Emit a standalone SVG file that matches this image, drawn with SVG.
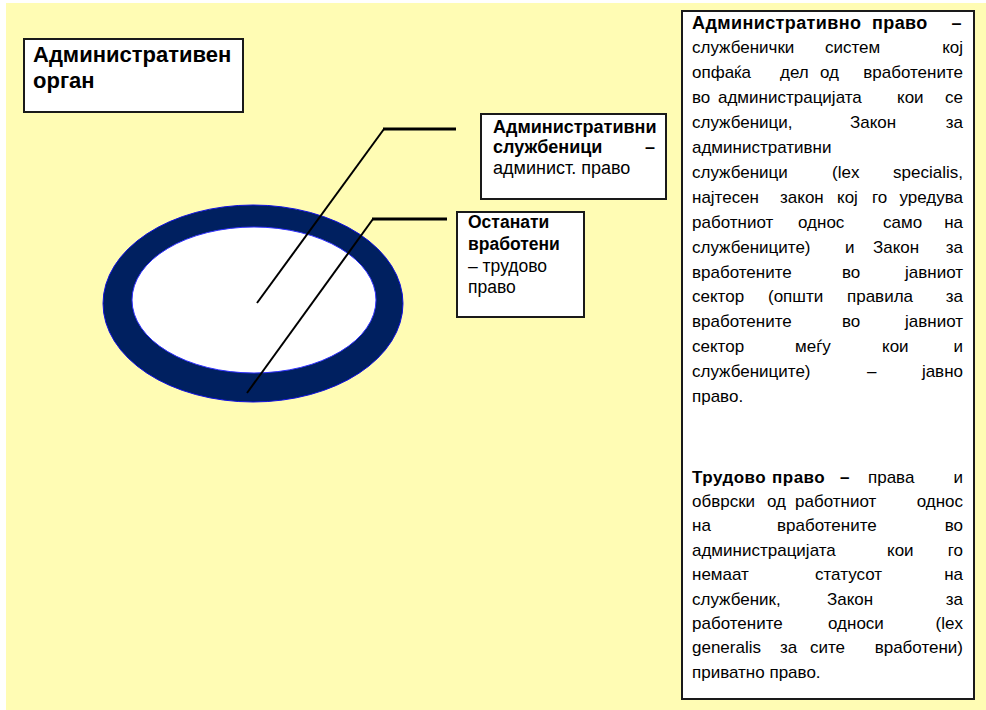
<svg xmlns="http://www.w3.org/2000/svg" width="986" height="710" viewBox="0 0 986 710">
<style>
text{font-family:"Liberation Sans",Arial,sans-serif;fill:#000}
.b{font-weight:bold}
.box{fill:#fff;stroke:#1a1a1a;stroke-width:2}
.r{font-size:17px}
.r .b{letter-spacing:0.5px}
.r .h{font-size:18px;letter-spacing:0.4px}
.s{font-size:18px}
.o{font-size:17.5px}
.diag{stroke:#000;stroke-width:2;fill:none}
.hor{stroke:#000;stroke-width:3;fill:none}
</style>
<rect x="0" y="0" width="986" height="710" fill="#fff"/>
<rect x="6" y="3" width="980" height="707" fill="#fffcb4"/>

<g id="organ">
<rect class="box" x="24" y="39" width="219" height="73"/>
<text class="b" font-size="22" x="33" y="62">Административен</text>
<text class="b" font-size="22" x="33" y="88">орган</text>
</g>

<g id="ring">
<ellipse cx="253" cy="303.5" rx="150" ry="98.5" fill="#002060" stroke="#1010e0" stroke-width="1"/>
<ellipse cx="254" cy="300" rx="122" ry="73" fill="#fff" stroke="#3030ff" stroke-width="1"/>
</g>

<g id="connectors">
<line class="diag" x1="257" y1="303" x2="384" y2="129"/>
<line class="hor" x1="383" y1="129" x2="456" y2="129"/>
<line class="diag" x1="247" y1="393" x2="373" y2="219"/>
<line class="hor" x1="372" y1="219" x2="447" y2="219"/>
</g>

<g id="sluzbenici">
<rect class="box" x="481" y="114" width="185" height="85"/>
<text class="s b" x="493" y="133">Административни</text>
<text class="s b" x="493" y="153">службеници</text>
<text class="s b" x="655" y="153" text-anchor="end">–</text>
<text class="s" x="493" y="174">админист. право</text>
</g>

<g id="ostanati">
<rect class="box" x="457" y="212" width="127" height="105"/>
<text class="o b" x="468" y="228">Останати</text>
<text class="o b" x="468" y="250">вработени</text>
<text class="o" x="468" y="272">– трудово</text>
<text class="o" x="468" y="293">право</text>
</g>

<g id="objasnuvanje">
<rect class="box" x="682" y="11" width="292" height="688"/>
<g class="r">
<text y="28.5"><tspan class="b h" x="692">Административно</tspan><tspan class="b h" x="872">право</tspan><tspan class="b h" x="962" text-anchor="end">–</tspan></text>
<text y="53.4"><tspan x="692">службенички</tspan><tspan x="825">систем</tspan><tspan x="963" text-anchor="end">кој</tspan></text>
<text y="78.3"><tspan x="692">опфаќа</tspan><tspan x="780">дел</tspan><tspan x="820">од</tspan><tspan x="963" text-anchor="end">вработените</tspan></text>
<text y="103.2"><tspan x="692">во</tspan><tspan x="718">администрацијата</tspan><tspan x="897">кои</tspan><tspan x="963" text-anchor="end">се</tspan></text>
<text y="128.1"><tspan x="692">службеници,</tspan><tspan x="850">Закон</tspan><tspan x="963" text-anchor="end">за</tspan></text>
<text y="153" x="692">административни</text>
<text y="177.9"><tspan x="692">службеници</tspan><tspan x="832">(lex</tspan><tspan x="963" text-anchor="end">specialis,</tspan></text>
<text y="202.8"><tspan x="692">најтесен</tspan><tspan x="780">закон</tspan><tspan x="837">кој</tspan><tspan x="872">го</tspan><tspan x="963" text-anchor="end">уредува</tspan></text>
<text y="227.7"><tspan x="692">работниот</tspan><tspan x="798">однос</tspan><tspan x="883">само</tspan><tspan x="963" text-anchor="end">на</tspan></text>
<text y="252.6"><tspan x="692">службениците)</tspan><tspan x="845">и</tspan><tspan x="873">Закон</tspan><tspan x="963" text-anchor="end">за</tspan></text>
<text y="277.5"><tspan x="692">вработените</tspan><tspan x="842">во</tspan><tspan x="963" text-anchor="end">јавниот</tspan></text>
<text y="302.4"><tspan x="692">сектор</tspan><tspan x="768">(општи</tspan><tspan x="847">правила</tspan><tspan x="963" text-anchor="end">за</tspan></text>
<text y="327.3"><tspan x="692">вработените</tspan><tspan x="842">во</tspan><tspan x="963" text-anchor="end">јавниот</tspan></text>
<text y="352.2"><tspan x="692">сектор</tspan><tspan x="795">меѓу</tspan><tspan x="882">кои</tspan><tspan x="963" text-anchor="end">и</tspan></text>
<text y="377.1"><tspan x="692">службениците)</tspan><tspan x="867">–</tspan><tspan x="963" text-anchor="end">јавно</tspan></text>
<text y="402" x="692">право.</text>

<text y="482.5"><tspan class="b" x="692">Трудово</tspan><tspan class="b" x="772">право</tspan><tspan class="b" x="840">–</tspan><tspan x="868">права</tspan><tspan x="963" text-anchor="end">и</tspan></text>
<text y="506.9"><tspan x="692">обврски</tspan><tspan x="767">од</tspan><tspan x="795">работниот</tspan><tspan x="963" text-anchor="end">однос</tspan></text>
<text y="531.3"><tspan x="692">на</tspan><tspan x="777">вработените</tspan><tspan x="963" text-anchor="end">во</tspan></text>
<text y="555.7"><tspan x="692">администрацијата</tspan><tspan x="887">кои</tspan><tspan x="963" text-anchor="end">го</tspan></text>
<text y="580.1"><tspan x="692">немаат</tspan><tspan x="815">статусот</tspan><tspan x="963" text-anchor="end">на</tspan></text>
<text y="604.5"><tspan x="692">службеник,</tspan><tspan x="827">Закон</tspan><tspan x="963" text-anchor="end">за</tspan></text>
<text y="628.9"><tspan x="692">работените</tspan><tspan x="828">односи</tspan><tspan x="963" text-anchor="end">(lex</tspan></text>
<text y="653.3"><tspan x="692">generalis</tspan><tspan x="780">за</tspan><tspan x="810">сите</tspan><tspan x="963" text-anchor="end">вработени)</tspan></text>
<text y="677.7" x="692">приватно право.</text>
</g>
</g>
</svg>
